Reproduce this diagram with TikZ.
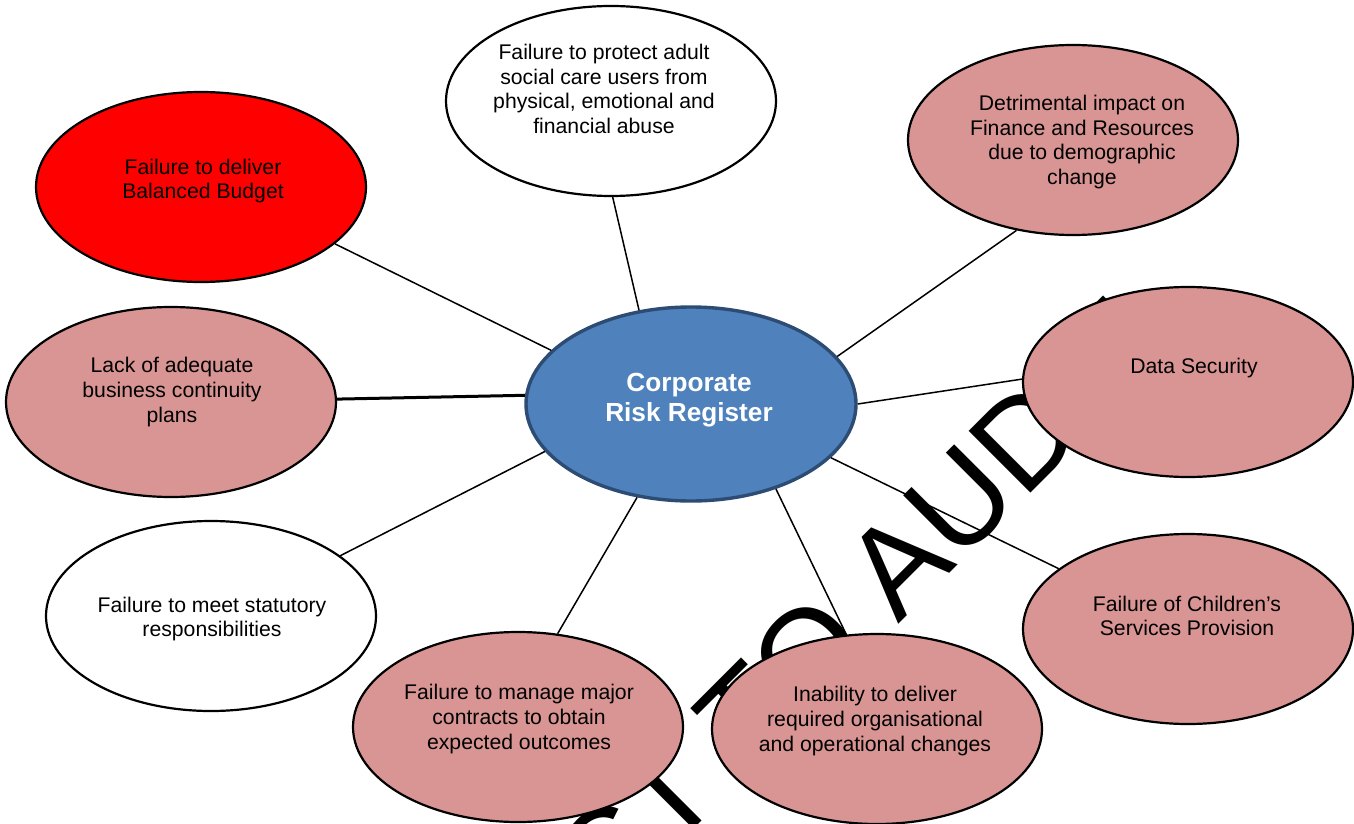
\documentclass[tikz,border=0pt]{standalone}
\usepackage{fontspec}
\setmainfont{Liberation Sans}
\usetikzlibrary{shapes.geometric}
\definecolor{pinkfill}{HTML}{D99594}
\definecolor{bluefill}{HTML}{4F81BD}
\definecolor{blueline}{HTML}{2C4C74}
\tikzset{
  riskell/.style={ellipse, draw=black, line width=1.1pt, minimum width=165pt, minimum height=95pt, inner sep=0pt},
  pinkell/.style={riskell, fill=pinkfill},
  whiteell/.style={riskell, fill=white},
  redell/.style={riskell, fill=red},
  centreell/.style={ellipse, draw=blueline, fill=bluefill, line width=1.7pt, minimum width=165pt, minimum height=97pt, inner sep=0pt},
  risktxt/.style={align=center, inner sep=0pt, font=\fontsize{10.6}{12.4}\selectfont},
  centretxt/.style={align=center, inner sep=0pt, text=white, font=\fontsize{13.1}{15}\selectfont\bfseries},
  conn/.style={draw=black, line width=0.75pt},
  thickconn/.style={draw=black, line width=1.5pt},
  wmark/.style={inner sep=0pt, font=\fontsize{63.5}{70}\selectfont, text=black}
}
\begin{document}
\begin{tikzpicture}[x=0.5pt, y=-0.5pt]
\useasboundingbox (0,0) rectangle (1354,824);
\clip (0,0) rectangle (1354,824);
\fill[white] (0,0) rectangle (1354,824);
% watermark
\node[wmark, anchor=base east, rotate=45] (wm) at (1168,355) {SUBJECT TO AUDIT};
% ellipses
\node[redell] (b) at (201,187) {};
\node[whiteell] (p) at (611,101) {};
\node[pinkell] (d) at (1073,140) {};
\node[pinkell] (l) at (171,402) {};
\node[centreell] (c) at (691,404) {};
\node[pinkell] (s) at (1188,382) {};
\node[whiteell] (st) at (211,616) {};
\node[pinkell] (m) at (518,727) {};
\node[pinkell] (i) at (877,729) {};
\node[pinkell] (ch) at (1188,629) {};
% texts
\node[risktxt] (bt) at (203,181) {Failure to deliver\\Balanced Budget};
\node[risktxt] (pt) at (604,89) {Failure to protect adult\\social care users from\\physical, emotional and\\financial abuse};
\node[risktxt] (dt) at (1082,142) {Detrimental impact on\\Finance and Resources\\due to demographic\\change};
\node[risktxt] (lt) at (172,392) {Lack of adequate\\business continuity\\plans};
\node[centretxt] (ct) at (689,400) {Corporate\\Risk Register};
\node[risktxt] (sttx) at (1194,368) {Data Security};
\node[risktxt] (stt) at (212,619) {Failure to meet statutory\\responsibilities};
\node[risktxt] (mt) at (519,719) {Failure to manage major\\contracts to obtain\\expected outcomes};
\node[risktxt] (it) at (875,721) {Inability to deliver\\required organisational\\and operational changes};
\node[risktxt] (cht) at (1187,616) {Failure of Children’s\\Services Provision};
% connectors
\draw[conn] (b.-23.3) -- (c.159.1);
\draw[conn] (p.-89.4) -- (c.119.4);
\draw[conn] (d.-122) -- (c.18.2);
\draw[thickconn] (l.1.4) -- (c.177.9);
\draw[conn] (s.179.3) -- (c.-0.7);
\draw[conn] (st.25.8) -- (c.-162.6);
\draw[conn] (m.67.4) -- (c.-120.3);
\draw[conn] (i.108.6) -- (c.-45);
\draw[conn] (ch.155.6) -- (c.-21.9);
\end{tikzpicture}
\end{document}
